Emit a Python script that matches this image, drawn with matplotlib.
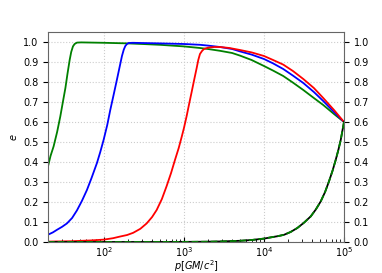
import matplotlib
matplotlib.use("Agg")
import matplotlib.pyplot as plt

# green branch
green_p = [20, 21.5, 23.5, 26, 28.5, 31, 33, 35, 37.3, 39, 41, 43, 46, 52, 100, 200, 300, 500,
           1000, 1585, 2000, 2818, 4000, 5012, 7000, 10000, 13000, 17400, 23000, 31000, 42000, 55000, 75000, 100000]
green_e = [0.378, 0.43, 0.478, 0.55, 0.628, 0.71, 0.77, 0.84, 0.91, 0.95, 0.978, 0.99, 0.997, 0.998, 0.996, 0.993, 0.99, 0.986,
           0.978, 0.97, 0.965, 0.956, 0.945, 0.932, 0.91, 0.88, 0.857, 0.83, 0.797, 0.76, 0.72, 0.685, 0.64, 0.6]

# blue branch
blue_p = [20, 23, 25.9, 30, 34.5, 40, 46, 53, 61.3, 70, 81.8, 90, 99, 110, 120, 132, 145, 157, 168, 177, 185, 194, 204, 230,
          500, 1000, 1585, 2000, 2818, 4000, 5012, 7000, 10000, 13000, 17400, 23000, 31000, 42000, 55000, 75000, 100000]
blue_e = [0.0365, 0.048, 0.061, 0.076, 0.093, 0.12, 0.158, 0.205, 0.26, 0.32, 0.395, 0.45, 0.51, 0.585, 0.66, 0.735, 0.81, 0.875, 0.93, 0.962, 0.98, 0.99, 0.995, 0.996,
          0.993, 0.99, 0.986, 0.982, 0.975, 0.965, 0.953, 0.937, 0.915, 0.893, 0.865, 0.832, 0.795, 0.75, 0.705, 0.65, 0.6]

# red branch
red_p = [20, 40, 70, 100, 130, 158, 195, 232, 285, 342, 400, 456, 530, 608, 690, 772, 860, 936, 1000, 1081, 1160, 1248, 1340, 1442,
         1510, 1585, 1680, 1778, 2013, 2400, 2818, 3700, 5012, 7000, 10000, 13000, 17400, 23000, 31000, 42000, 55000, 75000, 100000]
red_e = [0.002, 0.004, 0.008, 0.012, 0.019, 0.027, 0.035, 0.046, 0.066, 0.093, 0.125, 0.16, 0.215, 0.28, 0.345, 0.41, 0.47, 0.525, 0.57, 0.63, 0.69, 0.75, 0.81, 0.87,
         0.91, 0.94, 0.955, 0.965, 0.972, 0.975, 0.975, 0.97, 0.96, 0.948, 0.93, 0.91, 0.887, 0.855, 0.815, 0.77, 0.72, 0.66, 0.6]

# lower branch (black)
low_p = [20, 500, 1000, 2000, 3000, 5000, 7000, 10000, 12100, 14800, 17800, 21500, 26100, 31500, 38400, 44500, 51200, 58000,
         64900, 72000, 78700, 85000, 91000, 100000]
low_e = [0.0, 0.0003, 0.0006, 0.0015, 0.003, 0.006, 0.01, 0.017, 0.023, 0.029, 0.036, 0.05, 0.07, 0.096, 0.128, 0.163, 0.203, 0.25,
         0.303, 0.357, 0.41, 0.46, 0.51, 0.6]

fig = plt.figure(figsize=(3.82, 2.73), dpi=100)
ax = fig.add_axes([48/382, 31/273, 296/382, 210/273])

ax.plot(green_p, green_e, color='green', lw=1.3)
ax.plot(blue_p, blue_e, color='blue', lw=1.3)
ax.plot(red_p, red_e, color='red', lw=1.3)
ax.plot(low_p, low_e, color='black', lw=1.3)
ax.plot(low_p, low_e, color='green', lw=1.3, ls='--')

ax.set_xscale('log')
ax.set_xlim(20, 1e5)
ax.set_ylim(0, 1.05)
ax.set_yticks([0.0, 0.1, 0.2, 0.3, 0.4, 0.5, 0.6, 0.7, 0.8, 0.9, 1.0])
ax.grid(True, which='major', ls=':', color='0.8', lw=0.8)
ax.tick_params(labelsize=7, right=True, labelright=True)
ax.tick_params(axis='x', which='both', direction='in', pad=2)
for s in ax.spines.values():
    s.set_color('0.4')
ax.set_xlabel(r'$p[GM/c^2]$', fontsize=7, labelpad=0)
ax.set_ylabel(r'$e$', fontsize=7, labelpad=3)

fig.savefig('out.png', dpi=100)
